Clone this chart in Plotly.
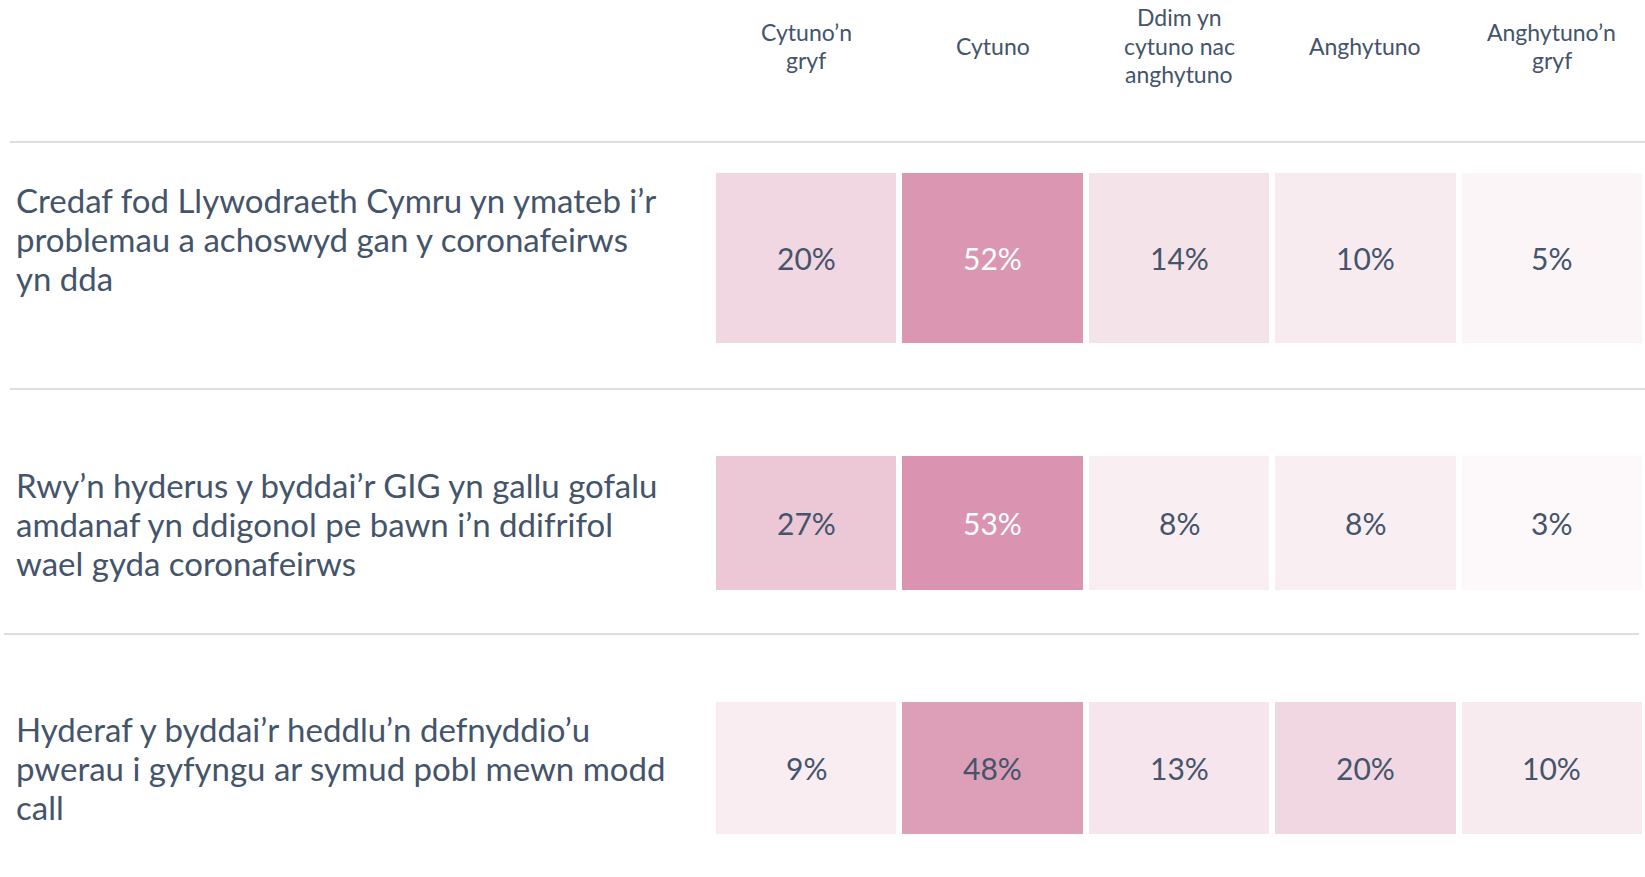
import plotly.graph_objects as go

# ---- data ----
categories = ["Cytuno’n gryf", "Cytuno", "Ddim yn cytuno nac anghytuno", "Anghytuno", "Anghytuno’n gryf"]
header_lines = [["Cytuno’n", "gryf"], ["Cytuno"], ["Ddim yn", "cytuno nac", "anghytuno"], ["Anghytuno"], ["Anghytuno’n", "gryf"]]
statement_keys = ["s1", "s2", "s3"]
statement_lines = [
    ["Credaf fod Llywodraeth Cymru yn ymateb i’r", "problemau a achoswyd gan y coronafeirws", "yn dda"],
    ["Rwy’n hyderus y byddai’r GIG yn gallu gofalu", "amdanaf yn ddigonol pe bawn i’n ddifrifol", "wael gyda coronafeirws"],
    ["Hyderaf y byddai’r heddlu’n defnyddio’u", "pwerau i gyfyngu ar symud pobl mewn modd", "call"],
]
values_row1 = [20, 52, 14, 10, 5]
values_row2 = [27, 53, 8, 8, 3]
values_row3 = [9, 48, 13, 20, 10]
rows = [values_row1, values_row2, values_row3]

# ---- layout constants (pixels) ----
W, H = 1645, 877
TEXT = "#44546A"
FONT = "Lato, 'Open Sans', sans-serif"
row_px = [(173, 343), (456, 590), (702, 834)]   # top, bottom of cells
label_line_px = [[200, 239, 278], [485, 524, 563], [729, 768, 807]]
header_center_px = 46
header_step = 28.5
sep_lines = [(142, 10, W), (389, 10, W), (634, 4, 1639)]


def py(p):
    return (H - p) / H


fig = go.Figure()
axis_names = ["y", "y2", "y3"]
for i, vals in enumerate(rows):
    fig.add_trace(go.Heatmap(
        z=[vals], x=categories, y=[statement_keys[i]],
        zmin=0, zmax=53,
        colorscale=[[0, "#FFFFFF"], [1, "#DA94B1"]],
        showscale=False, xgap=6, ygap=0,
        hoverinfo="skip",
        yaxis=axis_names[i], xaxis="x",
    ))
    for c, v in zip(categories, vals):
        fig.add_annotation(
            x=c, y=statement_keys[i], xref="x", yref=axis_names[i],
            text=f"{v}%", showarrow=False,
            font=dict(family=FONT, size=30, color="#FFFFFF" if v >= 50 else TEXT),
        )
    for line, ypx in zip(statement_lines[i], label_line_px[i]):
        fig.add_annotation(
            x=14 / W, y=py(ypx), xref="paper", yref="paper",
            xanchor="left", yanchor="middle", align="left",
            text=line, showarrow=False,
            font=dict(family=FONT, size=33, color=TEXT),
        )

for c, lines in zip(categories, header_lines):
    n = len(lines)
    for k, line in enumerate(lines):
        ypx = header_center_px + (k - (n - 1) / 2) * header_step
        fig.add_annotation(
            x=c, y=py(ypx), xref="x", yref="paper", yanchor="middle",
            text=line, showarrow=False, align="center",
            font=dict(family=FONT, size=23, color=TEXT),
        )

for (yy, x0, x1) in sep_lines:
    fig.add_shape(type="line", xref="paper", yref="paper",
                  x0=x0 / W, x1=x1 / W, y0=py(yy), y1=py(yy),
                  line=dict(color="#D3D3D3", width=1.5))

ax_common = dict(showticklabels=False, showgrid=False, zeroline=False, showline=False, fixedrange=True)
layout_axes = {}
for i, name in enumerate(["yaxis", "yaxis2", "yaxis3"]):
    top, bot = row_px[i]
    layout_axes[name] = dict(domain=[py(bot), py(top)], anchor="x", **ax_common)

fig.update_layout(
    width=W, height=H,
    margin=dict(l=0, r=0, t=0, b=0),
    paper_bgcolor="white", plot_bgcolor="white",
    xaxis=dict(domain=[713 / W, 1.0], type="category", **ax_common),
    showlegend=False,
    **layout_axes,
)

fig.write_html("out.html", config={"displayModeBar": False},
               post_script="document.body.style.margin='0';")
